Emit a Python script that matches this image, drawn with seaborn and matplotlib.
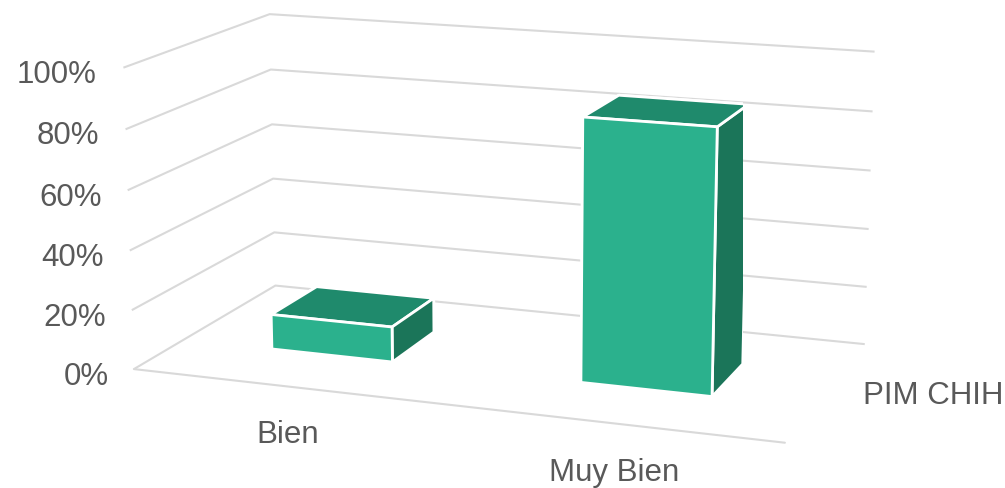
import numpy as np
import matplotlib
matplotlib.use("Agg")
import matplotlib.pyplot as plt
import seaborn as sns
from matplotlib.transforms import ScaledTranslation
from mpl_toolkits.mplot3d import Axes3D  # noqa: F401

# data
categories = ["Bien", "Muy Bien"]
series_name = "PIM CHIH"
values = [0.12, 0.87]
z_ticks = [0.0, 0.2, 0.4, 0.6, 0.8, 1.0]
z_tick_labels = ["0%", "20%", "40%", "60%", "80%", "100%"]

sns.set_theme(style="white")
plt.rcParams["font.family"] = ["Liberation Sans", "DejaVu Sans"]

# excel-like teal: front / top / right side
front_col = "#2bb18d"
top_col = "#1f8a6c"
side_col = "#1b7559"
grid_col = "#d9d9d9"
text_col = "#595959"

fig = plt.figure(figsize=(10.05, 4.89), dpi=100)
ax = fig.add_axes([-0.004, 0.055, 1.0, 1.0], projection="3d")

bar_w = 0.40
bar_d = 0.34
x_pos = np.arange(len(categories)) - bar_w / 2
y_pos = np.full(len(categories), 0.5 - bar_d / 2)
# face order: -z, +z, -y, +y, -x, +x
face_cols = [front_col, top_col, front_col, front_col, front_col, side_col] * len(categories)
ax.bar3d(x_pos, y_pos, np.zeros(len(categories)), bar_w, bar_d, values,
         color=face_cols, shade=False, edgecolor="white", linewidth=2)

ax.set_xlim(-0.5, len(categories) - 0.5)
ax.set_ylim(0, 1)
ax.set_zlim(0, 1)
ax.set_box_aspect((676, 340, 310), zoom=1.6)
ax.view_init(elev=13.7, azim=-70)

ax.set_xticks(range(len(categories)))
ax.set_xticklabels(categories)
ax.set_yticks([0.5])
ax.set_yticklabels([series_name])
ax.set_zticks(z_ticks)
ax.set_zticklabels(z_tick_labels)
ax.zaxis.set_ticks_position("lower")

for axis in (ax.xaxis, ax.yaxis, ax.zaxis):
    axis.set_pane_color((1, 1, 1, 0))
    axis.pane.set_edgecolor((1, 1, 1, 0))
    axis._axinfo["tick"]["inward_factor"] = 0.0
    axis._axinfo["tick"]["outward_factor"] = 0.0
    axis._axinfo["grid"]["color"] = (1, 1, 1, 0)
    axis._axinfo["grid"]["linewidth"] = 1.5
    axis.line.set_color((1, 1, 1, 0))
    for lab in axis.get_ticklabels():
        lab.set_color(text_col)
        lab.set_fontsize(22.5)

for lab in ax.zaxis.get_ticklabels():
    lab.set_ha("right")

ax.zaxis._axinfo["grid"]["color"] = grid_col
ax.xaxis.line.set_color(grid_col)
ax.xaxis.line.set_linewidth(1.5)
ax.grid(True)


def nudge_ticklabels(axis, dx, dy):
    # mplot3d resets tick transforms on each draw, so wrap the getter
    base = axis.get_major_ticks
    shift = ScaledTranslation(dx / 100, -dy / 100, fig.dpi_scale_trans)

    def get_major_ticks(numticks=None):
        ticks = base(numticks)
        for t in ticks:
            t.label1.set_transform(ax.transData + shift)
        return ticks

    axis.get_major_ticks = get_major_ticks


nudge_ticklabels(ax.zaxis, 22, -10)
nudge_ticklabels(ax.xaxis, 10, 8)
nudge_ticklabels(ax.yaxis, 64, -34)

fig.savefig("out.png", dpi=100, facecolor="white")
